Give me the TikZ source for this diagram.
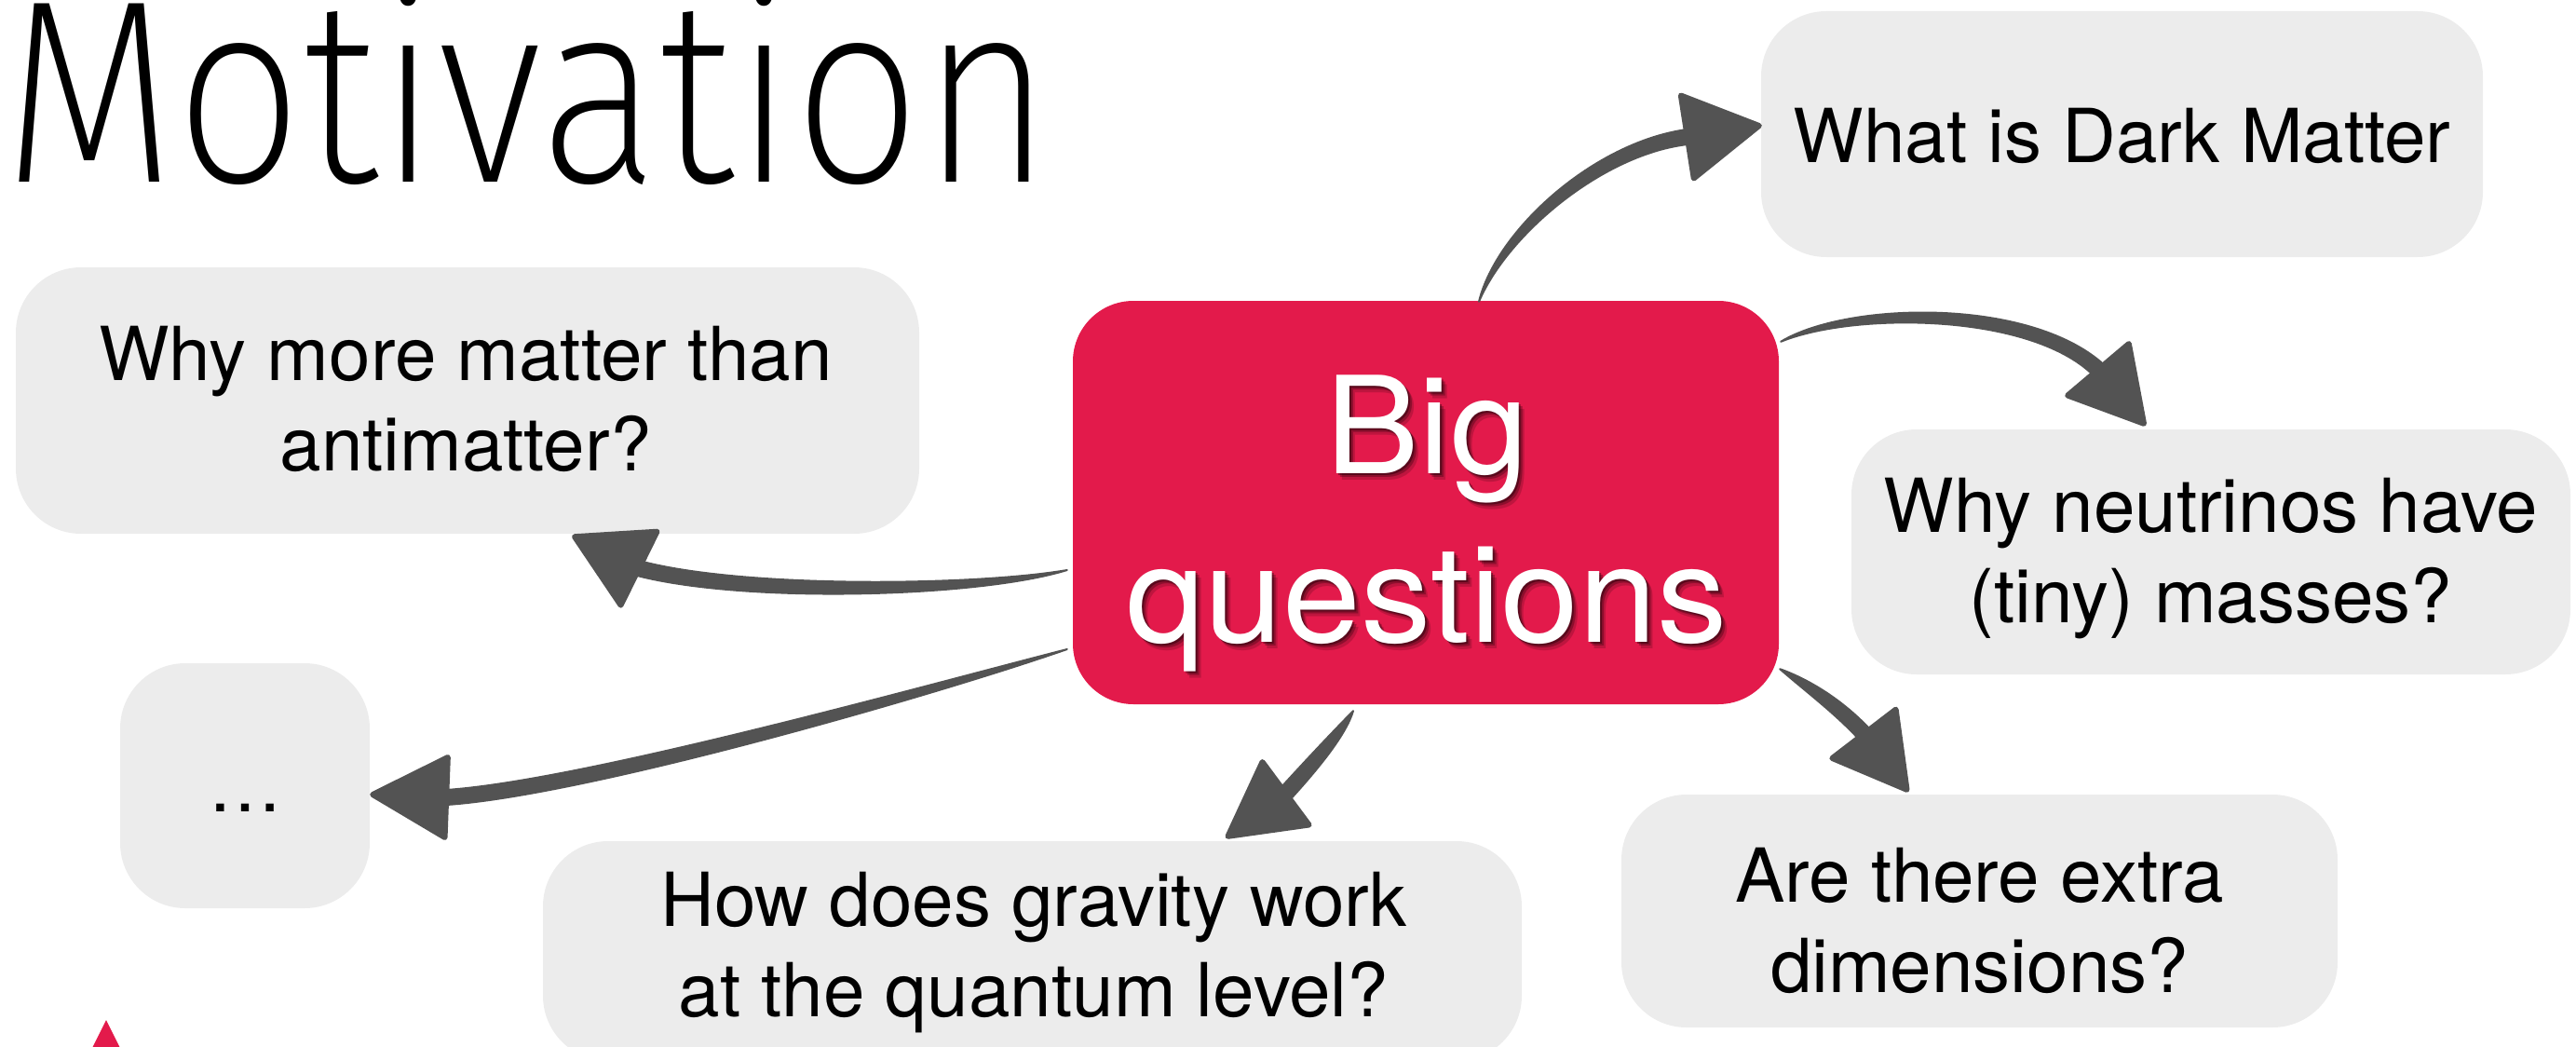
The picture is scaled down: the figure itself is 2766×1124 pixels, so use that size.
\documentclass[tikz,border=0pt]{standalone}
\usepackage{fontspec}
\setmainfont{TeX Gyre Heros}
\newfontfamily\hubfont{TeX Gyre Heros}[FakeStretch=1.04]
\IfFontExistsTF{Fira Sans ExtraLight}
  {\newfontfamily\titlefont{Fira Sans ExtraLight}}
  {\IfFontExistsTF{Fira Sans Light}
    {\newfontfamily\titlefont{Fira Sans Light}}
    {\newfontfamily\titlefont{TeX Gyre Heros}}}
\usetikzlibrary{calc}

\definecolor{keyred}{HTML}{E31A4B}
\definecolor{bubble}{HTML}{ECECEC}
\definecolor{ink}{HTML}{535353}

\tikzset{
  bubblebox/.style={fill=bubble, draw=none, rounded corners=70pt, inner sep=0pt},
  hubbox/.style={fill=keyred, draw=none, rounded corners=65pt, inner sep=0pt},
  question/.style={font=\fontsize{80}{97}\selectfont, align=center, inner sep=0pt,
                   anchor=north, text=black},
  hubtext/.style={font=\hubfont\fontsize{145}{181}\selectfont, align=center, inner sep=0pt,
                  anchor=north},
  shaft/.style={fill=ink, draw=ink, line width=2pt, line join=round},
  headstyle/.style={fill=ink, draw=ink, line width=6pt, line join=round},
}

% tapered brush stroke: tail, control 1, control 2, end, half width
\newcommand{\brushstroke}[5]{%
  \filldraw[shaft] (#1)
    .. controls ($(#2)!0.8*#5!90:(#1)$) and ($(#3)!#5!90:(#2)$) .. ($(#4)!#5!90:(#3)$)
    -- ($(#4)!#5!-90:(#3)$)
    .. controls ($(#3)!#5!-90:(#2)$) and ($(#2)!0.8*#5!-90:(#1)$) .. (#1) -- cycle;}
% triangular arrow head: tip, middle of the back edge, half width
\newcommand{\headtri}[3]{%
  \filldraw[headstyle] (#1) -- ($(#2)!#3!90:(#1)$) -- ($(#2)!#3!-90:(#1)$) -- cycle;}

\begin{document}
\begin{tikzpicture}[x=1pt,y=-1pt]
\useasboundingbox (0,0) rectangle (2766,1124);
\clip (0,0) rectangle (2766,1124);

% title
\node[anchor=base west, inner sep=0pt, font=\titlefont\fontsize{280}{280}\selectfont]
  (title) at (3,195) {\scalebox{0.862}[1]{Motivation}};

% question bubbles
\node[bubblebox, minimum width=775pt, minimum height=264pt] (dm) at (2278.5,144) {};
\node[question] (dmtext) at (2278.5,115.6) {What is Dark Matter};

\node[bubblebox, minimum width=970pt, minimum height=286pt] (anti) at (502,430) {};
\node[question] (antitext) at (500,349.6) {Why more matter than\\antimatter?};

\node[bubblebox, minimum width=772pt, minimum height=263pt] (nu) at (2374,592.5) {};
\node[question] (nutext) at (2374,512.6) {Why neutrinos have\\(tiny) masses?};

\node[bubblebox, minimum width=268pt, minimum height=263pt] (dots) at (263,843.5) {};
\node[font=\fontsize{80}{97}\selectfont, inner sep=0pt, anchor=base] (dotstext)
  at (263,871) {…};

\node[bubblebox, minimum width=1051pt, minimum height=236pt] (grav) at (1108.5,1021) {};
\node[question] (gravtext) at (1110,935.6) {How does gravity work\\at the quantum level?};

\node[bubblebox, minimum width=769pt, minimum height=250pt] (extra) at (2125.5,978) {};
\node[question] (extratext) at (2125.5,909.6) {Are there extra\\dimensions?};

% central box with shadowed lettering
\node[hubbox, minimum width=758pt, minimum height=433pt] (big) at (1531,539.5) {};
\node[hubtext, text=black, text opacity=0.16] (bigshadowc) at (1538,410) {Big\\questions};
\node[hubtext, text=black, text opacity=0.26] (bigshadowb) at (1536,407) {Big\\questions};
\node[hubtext, text=black, text opacity=0.36] (bigshadowa) at (1534,405) {Big\\questions};
\node[hubtext, text=white] (bigtext) at (1532,403) {Big\\questions};

% red mark at the lower left
\fill[keyred] (114,1095) -- (136.5,1140) -- (91.5,1140) -- cycle;

% connector geometry
\coordinate (aT)  at ($(big.north)+(57,1)$);
\coordinate (aC1) at ($(aT)+(25,-75)$);
\coordinate (aH)  at ($(dm.west)+(-2,-9)$);
\coordinate (aB)  at ($(aH)+(-77,12)$);
\coordinate (aC2) at ($(aB)+(-95,12)$);

\coordinate (nuT)  at ($(big.north east)+(2,44)$);
\coordinate (nuC1) at ($(nuT)+(73,-37)$);
\coordinate (nuH)  at ($(nu.north)+(-72,-6)$);
\coordinate (nuB)  at ($(nuH)+(-49,-58)$);
\coordinate (nuC2) at ($(nuB)+(-75,-70)$);

\coordinate (amT)  at ($(big.west)+(-6,72.5)$);
\coordinate (amC1) at ($(amT)+(-96,23)$);
\coordinate (amH)  at ($(anti.south)+(115,3)$);
\coordinate (amB)  at ($(amH)+(69,34)$);
\coordinate (amC2) at ($(amB)+(115,30)$);

\coordinate (moT)  at ($(big.west)+(-6,157.5)$);
\coordinate (moC1) at ($(moT)+(-143,43)$);
\coordinate (moH)  at ($(dots.east)+(3,9.5)$);
\coordinate (moB)  at ($(moH)+(79,3)$);
\coordinate (moC2) at ($(moB)+(150,-10)$);

\coordinate (grT)  at ($(big.south)+(-78,7)$);
\coordinate (grC1) at ($(grT)+(-13,22)$);
\coordinate (grH)  at ($(grav.north)+(210,-5)$);
\coordinate (grB)  at ($(grH)+(62,-46)$);
\coordinate (grC2) at ($(grB)+(30,-33)$);

\coordinate (exT)  at ($(big.south east)+(1,-38)$);
\coordinate (exC1) at ($(exT)+(29,17)$);
\coordinate (exH)  at ($(extra.north)+(-78,-5)$);
\coordinate (exB)  at ($(exH)+(-46,-60)$);
\coordinate (exC2) at ($(exB)+(-27,-29)$);

% connectors
\brushstroke{aT}{aC1}{aC2}{aB}{8pt}   \headtri{aH}{aB}{45pt}
\brushstroke{nuT}{nuC1}{nuC2}{nuB}{8pt} \headtri{nuH}{nuB}{43pt}
\brushstroke{amT}{amC1}{amC2}{amB}{8pt} \headtri{amH}{amB}{44pt}
\brushstroke{moT}{moC1}{moC2}{moB}{8pt} \headtri{moH}{moB}{43pt}
\brushstroke{grT}{grC1}{grC2}{grB}{8pt} \headtri{grH}{grB}{42pt}
\brushstroke{exT}{exC1}{exC2}{exB}{8pt} \headtri{exH}{exB}{43pt}

\end{tikzpicture}
\end{document}
